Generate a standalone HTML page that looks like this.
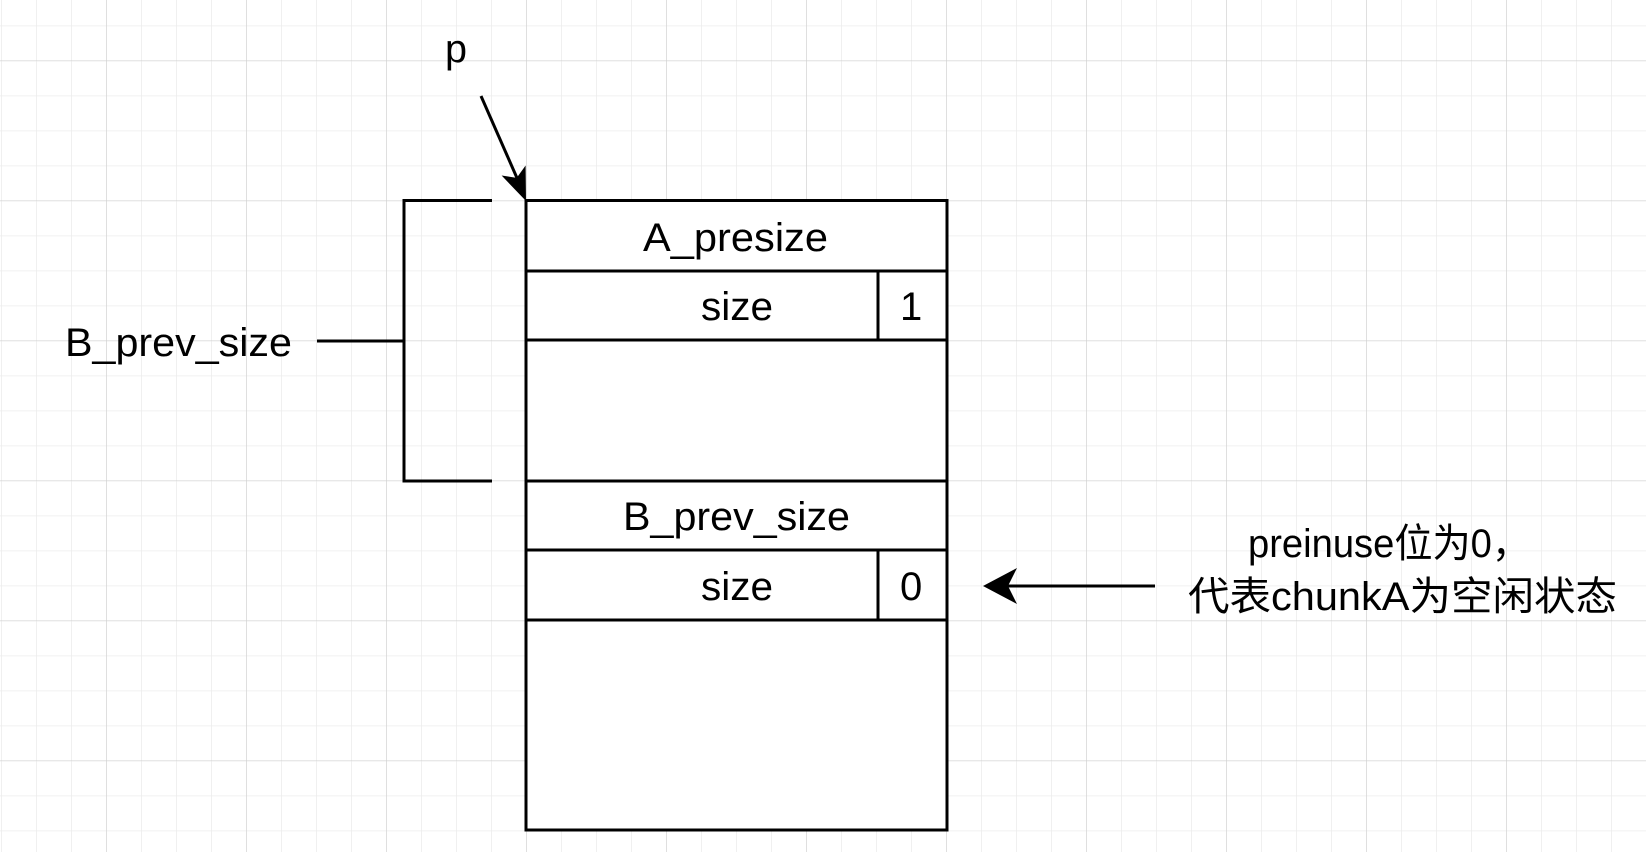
<!DOCTYPE html>
<html><head><meta charset="utf-8"><style>html,body{margin:0;padding:0;background:#fff}svg{display:block}</style></head><body>
<svg width="1646" height="852" viewBox="0 0 1646 852" xmlns="http://www.w3.org/2000/svg">
<defs>
<pattern id="minor" x="1" y="25.5" width="35" height="35" patternUnits="userSpaceOnUse">
<path d="M0 0H35M0 0V35" stroke="#ececec" stroke-width="1.5" fill="none"/>
</pattern>
<pattern id="major" x="106" y="60.5" width="140" height="140" patternUnits="userSpaceOnUse">
<path d="M0 0H140M0 0V140" stroke="#d0d0d0" stroke-width="1.2" fill="none"/>
</pattern>
</defs>
<rect width="1646" height="852" fill="#fff"/>
<rect width="1646" height="852" fill="url(#minor)"/>
<rect width="1646" height="852" fill="url(#major)"/>
<g stroke="#000" stroke-width="3" fill="none">
<rect x="526" y="200.5" width="421" height="629.5" fill="#fff"/>
<path d="M526 271H947M526 340H947M526 481H947M526 550H947M526 620H947M878 271V340M878 550V620"/>
<path d="M492 200.5H404V481H492M317 341H404"/>
<path d="M481 96L517 178"/>
<path d="M1155 586H1005"/>
</g>
<path d="M526 201L501.6 175.5L516.7 177.9L525.6 165.5Z" fill="#000"/>
<path d="M983 586L1017 568L1008 586L1017 604Z" fill="#000"/>
<g font-family="Liberation Sans, Noto Sans CJK SC, sans-serif" font-size="40" fill="#000">
<text x="445" y="62" textLength="22" lengthAdjust="spacingAndGlyphs">p</text>
<text x="65" y="356" textLength="227" lengthAdjust="spacingAndGlyphs">B_prev_size</text>
<text x="643" y="251" textLength="185" lengthAdjust="spacingAndGlyphs">A_presize</text>
<text x="701" y="320" textLength="72" lengthAdjust="spacingAndGlyphs">size</text>
<text x="900" y="320">1</text>
<text x="623" y="530" textLength="227" lengthAdjust="spacingAndGlyphs">B_prev_size</text>
<text x="701" y="600" textLength="72" lengthAdjust="spacingAndGlyphs">size</text>
<text x="900" y="600">0</text>
<text x="1248" y="557" textLength="282" lengthAdjust="spacingAndGlyphs">preinuse位为0，</text>
<text x="1188" y="610" textLength="429" lengthAdjust="spacingAndGlyphs">代表chunkA为空闲状态</text>
</g>
</svg>
</body></html>
